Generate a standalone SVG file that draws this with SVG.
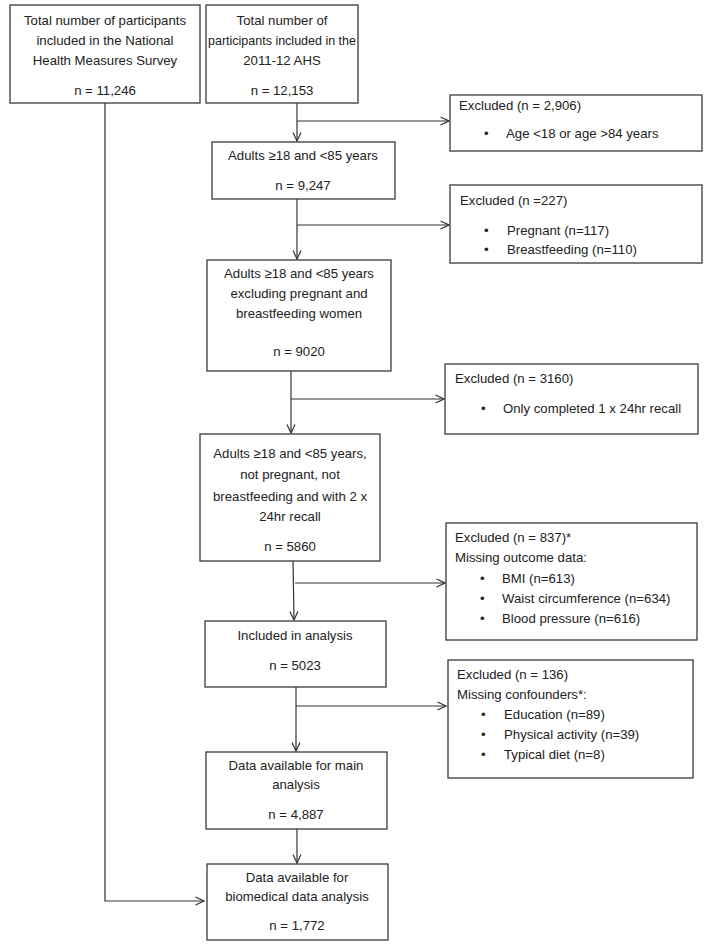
<svg xmlns="http://www.w3.org/2000/svg" width="708" height="948" viewBox="0 0 708 948">
<style>
.box{fill:#fff;stroke:#3a3a3a;stroke-width:1.3}
text{font-family:"Liberation Sans","Open Sans",Arial,sans-serif;font-size:13.2px;fill:#222}
.c{text-anchor:middle}
.ln{fill:none;stroke:#333;stroke-width:1.2}
</style>
<defs>
<marker id="ah" viewBox="0 0 10 10" refX="9.5" refY="5" markerWidth="10" markerHeight="10" markerUnits="userSpaceOnUse" orient="auto">
<polyline points="1,1 9.5,5 1,9" fill="none" stroke="#333" stroke-width="1.2"/>
</marker>
</defs>
<rect width="708" height="948" fill="#fff"/>
<g id="connectors">
<path class="ln" d="M105,103 V901 H204" marker-end="url(#ah)"/>
<path class="ln" d="M297,103 V141" marker-end="url(#ah)"/>
<path class="ln" d="M297,121 H449" marker-end="url(#ah)"/>
<path class="ln" d="M297,199 V259" marker-end="url(#ah)"/>
<path class="ln" d="M297,225 H449" marker-end="url(#ah)"/>
<path class="ln" d="M291,371 V433" marker-end="url(#ah)"/>
<path class="ln" d="M291,399 H444" marker-end="url(#ah)"/>
<path class="ln" d="M293,561 L294,620" marker-end="url(#ah)"/>
<path class="ln" d="M295,583 H445" marker-end="url(#ah)"/>
<path class="ln" d="M296,687 V751" marker-end="url(#ah)"/>
<path class="ln" d="M296,706 H446" marker-end="url(#ah)"/>
<path class="ln" d="M297,829 V863" marker-end="url(#ah)"/>
</g>
<g id="n1"><rect class="box" x="10" y="5" width="190" height="98"/>
<text class="c" x="105" y="25">Total number of participants</text>
<text class="c" x="105" y="45">included in the National</text>
<text class="c" x="105" y="65">Health Measures Survey</text>
<text class="c" x="105" y="95">n = 11,246</text></g>
<g id="n2"><rect class="box" x="206" y="5" width="152" height="98"/>
<text class="c" x="282" y="25">Total number of</text>
<text class="c" x="282" y="45" textLength="148" lengthAdjust="spacingAndGlyphs">participants included in the</text>
<text class="c" x="282" y="65">2011-12 AHS</text>
<text class="c" x="282" y="95">n = 12,153</text></g>
<g id="x1"><rect class="box" x="450" y="95" width="252" height="56"/>
<text x="459" y="110">Excluded (n = 2,906)</text>
<text x="484" y="138">•</text><text x="506" y="138">Age &lt;18 or age &gt;84 years</text></g>
<g id="n3"><rect class="box" x="212" y="142" width="183" height="57"/>
<text class="c" x="303" y="160">Adults ≥18 and &lt;85 years</text>
<text class="c" x="303" y="190">n = 9,247</text></g>
<g id="x2"><rect class="box" x="450" y="185" width="252" height="78"/>
<text x="460" y="205">Excluded (n =227)</text>
<text x="484" y="235">•</text><text x="507" y="235">Pregnant (n=117)</text>
<text x="484" y="254">•</text><text x="507" y="254">Breastfeeding (n=110)</text></g>
<g id="n4"><rect class="box" x="207" y="260" width="184" height="111"/>
<text class="c" x="299" y="278">Adults ≥18 and &lt;85 years</text>
<text class="c" x="299" y="298">excluding pregnant and</text>
<text class="c" x="299" y="318">breastfeeding women</text>
<text class="c" x="299" y="356">n = 9020</text></g>
<g id="x3"><rect class="box" x="445" y="364" width="253" height="70"/>
<text x="455" y="383">Excluded (n = 3160)</text>
<text x="481" y="413">•</text><text x="503" y="413">Only completed 1 x 24hr recall</text></g>
<g id="n5"><rect class="box" x="200" y="434" width="180" height="127"/>
<text class="c" x="290" y="458">Adults ≥18 and &lt;85 years,</text>
<text class="c" x="290" y="479">not pregnant, not</text>
<text class="c" x="290" y="501">breastfeeding and with 2 x</text>
<text class="c" x="290" y="521">24hr recall</text>
<text class="c" x="290" y="551">n = 5860</text></g>
<g id="x4"><rect class="box" x="446" y="523" width="251" height="117"/>
<text x="455" y="542">Excluded (n = 837)*</text>
<text x="455" y="562">Missing outcome data:</text>
<text x="480" y="583">•</text><text x="502" y="583">BMI (n=613)</text>
<text x="480" y="603">•</text><text x="502" y="603">Waist circumference (n=634)</text>
<text x="480" y="623">•</text><text x="502" y="623">Blood pressure (n=616)</text></g>
<g id="n6"><rect class="box" x="205" y="621" width="181" height="66"/>
<text class="c" x="295" y="640">Included in analysis</text>
<text class="c" x="295" y="670">n = 5023</text></g>
<g id="x5"><rect class="box" x="448" y="660" width="245" height="118"/>
<text x="457" y="679">Excluded (n = 136)</text>
<text x="457" y="699">Missing confounders*:</text>
<text x="481" y="719">•</text><text x="504" y="719">Education (n=89)</text>
<text x="481" y="739">•</text><text x="504" y="739">Physical activity (n=39)</text>
<text x="481" y="759">•</text><text x="504" y="759">Typical diet (n=8)</text></g>
<g id="n7"><rect class="box" x="206" y="752" width="181" height="77"/>
<text class="c" x="296" y="770">Data available for main</text>
<text class="c" x="296" y="789">analysis</text>
<text class="c" x="296" y="819">n = 4,887</text></g>
<g id="n8"><rect class="box" x="207" y="864" width="181" height="76"/>
<text class="c" x="297" y="882">Data available for</text>
<text class="c" x="297" y="901">biomedical data analysis</text>
<text class="c" x="297" y="930">n = 1,772</text></g>
</svg>
